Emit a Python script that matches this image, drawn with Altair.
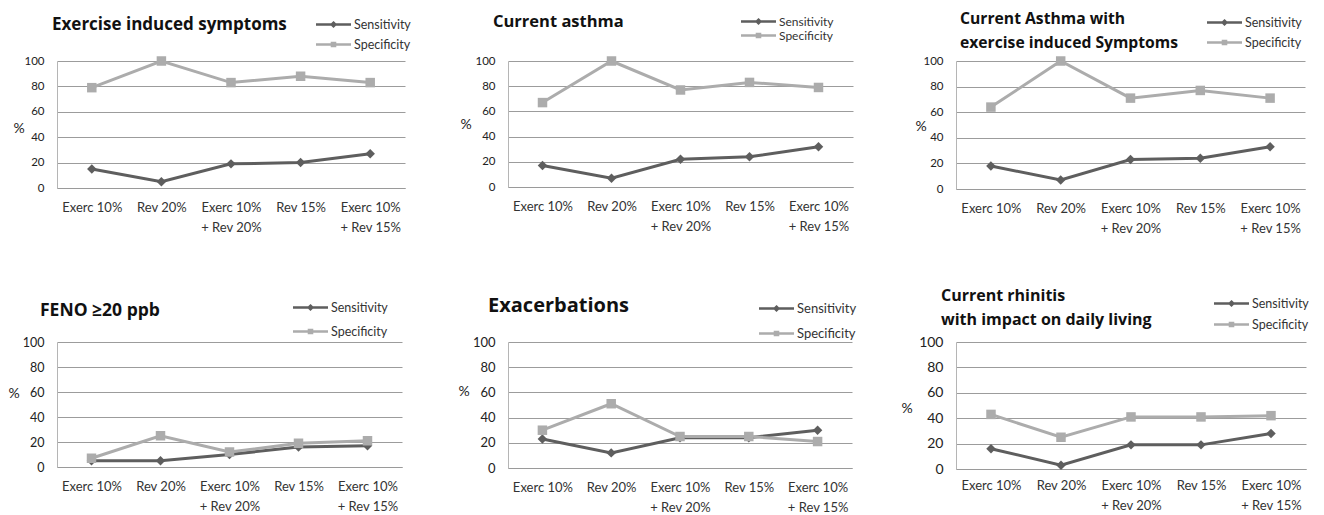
import altair as alt
import pandas as pd

# ---------------- data ----------------
categories = ["Exerc 10%", "Rev 20%", "Exerc 10%\n+ Rev 20%", "Rev 15%", "Exerc 10%\n+ Rev 15%"]
series_names = ["Sensitivity", "Specificity"]
y_ticks = [0, 20, 40, 60, 80, 100]

titles = [
    ["Exercise induced symptoms"],
    ["Current asthma"],
    ["Current Asthma with", "exercise induced Symptoms"],
    ["FENO \u226520 ppb"],
    ["Exacerbations"],
    ["Current rhinitis", "with impact on daily living"],
]
sensitivity = [
    [15, 5, 19, 20, 27],
    [17, 7, 22, 24, 32],
    [18, 7, 23, 24, 33],
    [5, 5, 10, 16, 17],
    [23, 12, 24, 24, 30],
    [16, 3, 19, 19, 28],
]
specificity = [
    [79, 100, 83, 88, 83],
    [67, 100, 77, 83, 79],
    [64, 100, 71, 77, 71],
    [7, 25, 12, 19, 21],
    [30, 51, 25, 25, 21],
    [43, 25, 41, 41, 42],
]

# ---------------- styles / layout ----------------
SENS_COLOR = "#5e5e5e"
SPEC_COLOR = "#acacac"
FONT = "Lato"
TITLE_FONT = "Open Sans"
DIAMOND_LEG = "M-2.5,0H2.5M0,-0.26L0.26,0L0,0.26L-0.26,0Z"
SQUARE_LEG = "M-2.5,0H2.5M-0.22,-0.22H0.22V0.22H-0.22Z"

# lx/ly: legend position, gap: distance between the two legend rows
layout = [
    dict(w=348, h=127, ts=17, tdx=-5, toff=-35, lx=268, ly=-45, gap=20, lf=12.5, yl=11.5, px=-44, py=67, xp=13),
    dict(w=345, h=126, ts=16.5, tdx=-15, toff=-33, lx=242, ly=-48, gap=14, lf=12, yl=11.5, px=-48, py=63, xp=13),
    dict(w=349, h=128, ts=15.7, tdx=4, toff=-53, lx=260, ly=-47, gap=20, lf=12.5, yl=11.5, px=-41, py=65, xp=13),
    dict(w=345, h=125, ts=17.5, tdx=-17, toff=-38, lx=245, ly=-43, gap=24, lf=12.5, yl=12.5, px=-49, py=51, xp=13),
    dict(w=344, h=126, ts=20, tdx=-20, toff=-36, lx=260, ly=-42, gap=25, lf=13, yl=13, px=-50, py=49, xp=13),
    dict(w=350, h=127, ts=16, tdx=-15, toff=-49, lx=267, ly=-47, gap=21, lf=12.5, yl=14, px=-55, py=66, xp=10),
]


def panel(i):
    rows = []
    for j, c in enumerate(categories):
        rows.append({"cat": c, "series": "Sensitivity", "value": sensitivity[i][j]})
    for j, c in enumerate(categories):
        rows.append({"cat": c, "series": "Specificity", "value": specificity[i][j]})
    df = pd.DataFrame(rows)
    L = layout[i]

    x = alt.X(
        "cat:N", sort=categories,
        scale=alt.Scale(type="point", padding=0.5),
        axis=alt.Axis(title=None, labelExpr="split(datum.label, '\\n')", labelAngle=0,
                      labelFont=FONT, labelFontSize=13, labelColor="#333333",
                      labelLineHeight=20, labelPadding=L["xp"], labelBaseline="top",
                      ticks=False, domain=True, domainColor="#9a9a9a", grid=False),
    )
    y = alt.Y(
        "value:Q",
        scale=alt.Scale(domain=[0, 100], nice=False, zero=True),
        axis=alt.Axis(values=y_ticks, title="%", titleAngle=0, titleX=L["px"], titleY=L["py"],
                      titleAlign="left", titleBaseline="middle", titleFont=FONT,
                      titleFontSize=14, titleFontWeight="normal", titleColor="#222222",
                      labelFont=FONT, labelFontSize=L["yl"], labelColor="#222222",
                      labelPadding=13, ticks=False, domain=True, domainColor="#b5b5b5",
                      grid=True, gridColor="#9c9c9c", gridWidth=1),
    )
    color = alt.Color("series:N", scale=alt.Scale(domain=series_names, range=[SENS_COLOR, SPEC_COLOR]),
                      legend=None)
    base = alt.Chart(df).encode(x=x, y=y, color=color)
    lines = base.mark_line(strokeWidth=3)
    points = base.mark_point(filled=True, size=90, opacity=1).encode(
        shape=alt.Shape("series:N", scale=alt.Scale(domain=series_names, range=["diamond", "square"]),
                        legend=None)
    )

    def legend_layer(name, col, path, ly):
        props = dict(title=None, orient="none", legendX=L["lx"], legendY=ly, symbolSize=196,
                     symbolStrokeWidth=2.5, symbolStrokeColor=col, symbolFillColor=col,
                     labelFont=FONT, labelFontSize=L["lf"], labelColor="#333333",
                     labelOffset=12, padding=0, direction="vertical")
        return alt.Chart(df).transform_filter("false").mark_point(
            filled=False, color=col, strokeWidth=2.5, opacity=1
        ).encode(
            x=x, y=y,
            shape=alt.Shape("series:N", scale=alt.Scale(domain=[name], range=[path]),
                            legend=alt.Legend(**props)),
        )

    leg_s = legend_layer("Sensitivity", SENS_COLOR, DIAMOND_LEG, L["ly"])
    leg_p = legend_layer("Specificity", SPEC_COLOR, SQUARE_LEG, L["ly"] + L["gap"])

    return alt.layer(lines, points, leg_s, leg_p).resolve_scale(shape="independent").properties(
        width=L["w"], height=L["h"],
        title=alt.TitleParams(text=titles[i], anchor="start", frame="group", dx=L["tdx"],
                              offset=L["toff"], font=TITLE_FONT, fontSize=L["ts"], fontWeight="bold",
                              color="#111111", lineHeight=24, baseline="bottom"),
    )


indep = dict(color="independent", shape="independent")

chart = alt.concat(
    *[panel(i) for i in range(6)],
    columns=3, spacing={"row": 153, "column": 103}, bounds="flush",
).resolve_scale(**indep).properties(
    padding={"left": 0, "top": 3, "right": 0, "bottom": 0},
    background="white",
).configure_view(stroke=None)

chart.save("out.html", embed_options={"renderer": "svg", "actions": False})
